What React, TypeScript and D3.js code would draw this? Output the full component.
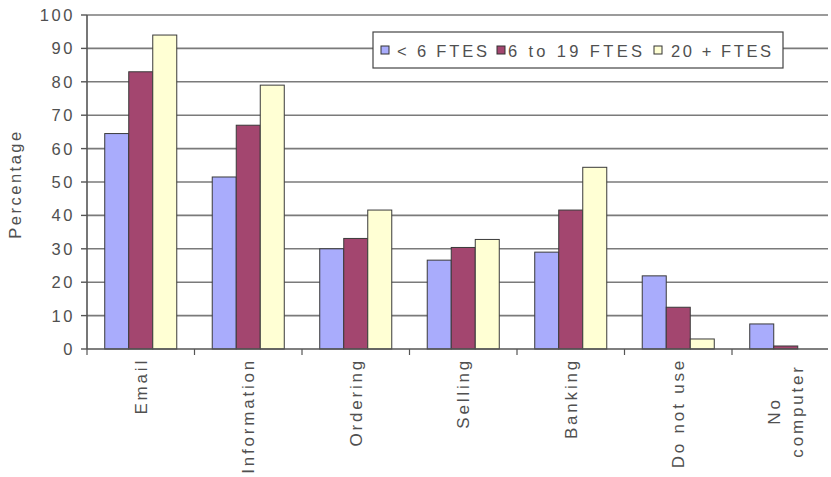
import React from "react";
import * as d3 from "d3";

const categories = ["Email", "Information", "Ordering", "Selling", "Banking", "Do not use", "No computer"];
const seriesNames = ["< 6 FTES", "6 to 19 FTES", "20 + FTES"];
const small = [64.5, 51.5, 30, 26.6, 29, 21.9, 7.5];
const medium = [83, 67, 33.1, 30.4, 41.6, 12.5, 0.9];
const large = [94, 79, 41.6, 32.8, 54.4, 3, 0];
const seriesColors = ["#a9acfc", "#a3466f", "#ffffd4"];
const yTicks = [0, 10, 20, 30, 40, 50, 60, 70, 80, 90, 100];

const W = 831, H = 477;
const x0 = 87, bandW = 107.5, plotTop = 15, plotBottom = 349, clipRight = 828;

export default function App() {
  const series = [small, medium, large];
  const x = d3.scaleBand<string>().domain(categories).range([x0, x0 + bandW * categories.length]).paddingInner(0.33).paddingOuter(0.165);
  const xInner = d3.scaleBand<number>().domain([0, 1, 2]).range([0, x.bandwidth()]);
  const y = d3.scaleLinear().domain([0, 100]).range([plotBottom, plotTop]);
  const font = "'Liberation Sans', Arial, sans-serif";
  const legendX = 373, legendY = 32;
  const legendItems = [
    { x: 8, tx: 16, len: 90 },
    { x: 124, tx: 11, len: 134 },
    { x: 281, tx: 17, len: 100 },
  ];
  const txt = "#505050";
  return (
    <svg width={W} height={H} style={{ position: "absolute", left: 0, top: 0, background: "#fff" }} fontFamily={font}>
      <defs>
        <clipPath id="pc"><rect x={0} y={0} width={clipRight} height={H} /></clipPath>
      </defs>
      <g clipPath="url(#pc)">
        {yTicks.filter(t => t > 0).map(t => (
          <line key={t} x1={x0} x2={clipRight} y1={y(t)} y2={y(t)} stroke="#7a7a7a" strokeWidth={1.6} />
        ))}
        {categories.map((c, i) => (
          <g key={c}>
            {series.map((s, j) => s[i] > 0 ? (
              <rect key={j} x={(x(c) as number) + (xInner(j) as number)} y={y(s[i])} width={xInner.bandwidth()} height={plotBottom - y(s[i])}
                fill={seriesColors[j]} stroke="#3a3a3a" strokeWidth={1} />
            ) : null)}
          </g>
        ))}
        <line x1={x0} x2={clipRight} y1={plotBottom} y2={plotBottom} stroke="#555" strokeWidth={1.6} />
        {categories.map((c, i) => (
          <line key={c} x1={x0 + bandW * i} x2={x0 + bandW * i} y1={plotBottom} y2={plotBottom + 6} stroke="#555" strokeWidth={1.2} />
        ))}
      </g>
      <line x1={x0} x2={x0} y1={plotTop} y2={plotBottom} stroke="#555" strokeWidth={1.6} />
      {yTicks.map(t => (
        <g key={t}>
          <line x1={x0 - 6} x2={x0} y1={y(t)} y2={y(t)} stroke="#555" strokeWidth={1.4} />
          <text x={75} y={y(t)} dy="0.36em" textAnchor="end" fontSize={16.5} letterSpacing={2.6} fill={txt}>{t}</text>
        </g>
      ))}
      <text transform={`translate(21,184) rotate(-90)`} textAnchor="middle" fontSize={16.5} letterSpacing={2.5} fill={txt}>Percentage</text>
      {categories.map(c => {
        const cx = (x(c) as number) + x.bandwidth() / 2;
        const lines = c === "No computer" ? ["No", "computer"] : [c];
        if (lines.length === 1) {
          return (
            <text key={c} transform={`translate(${cx + 6},${358}) rotate(-90)`} textAnchor="end" fontSize={17} letterSpacing={2.8} fill={txt}>{c}</text>
          );
        }
        return lines.map((ln, k) => (
          <text key={c + k} transform={`translate(${cx + 6 + (k - 0.5) * 23},${411}) rotate(-90)`}
            textAnchor="middle" fontSize={17} letterSpacing={2.8} fill={txt}>{ln}</text>
        ));
      })}
      <g transform={`translate(${legendX},${legendY})`}>
        <rect x={0} y={0} width={410} height={36} fill="#fff" stroke="#444" strokeWidth={1.2} />
        {seriesNames.map((n, j) => (
          <g key={n} transform={`translate(${legendItems[j].x},0)`}>
            <rect x={0} y={14} width={8} height={8} fill={seriesColors[j]} stroke="#333" strokeWidth={1} />
            <text x={legendItems[j].tx} y={24.5} fontSize={16.5} textLength={legendItems[j].len} lengthAdjust="spacing" fill={txt}>{n}</text>
          </g>
        ))}
      </g>
    </svg>
  );
}
